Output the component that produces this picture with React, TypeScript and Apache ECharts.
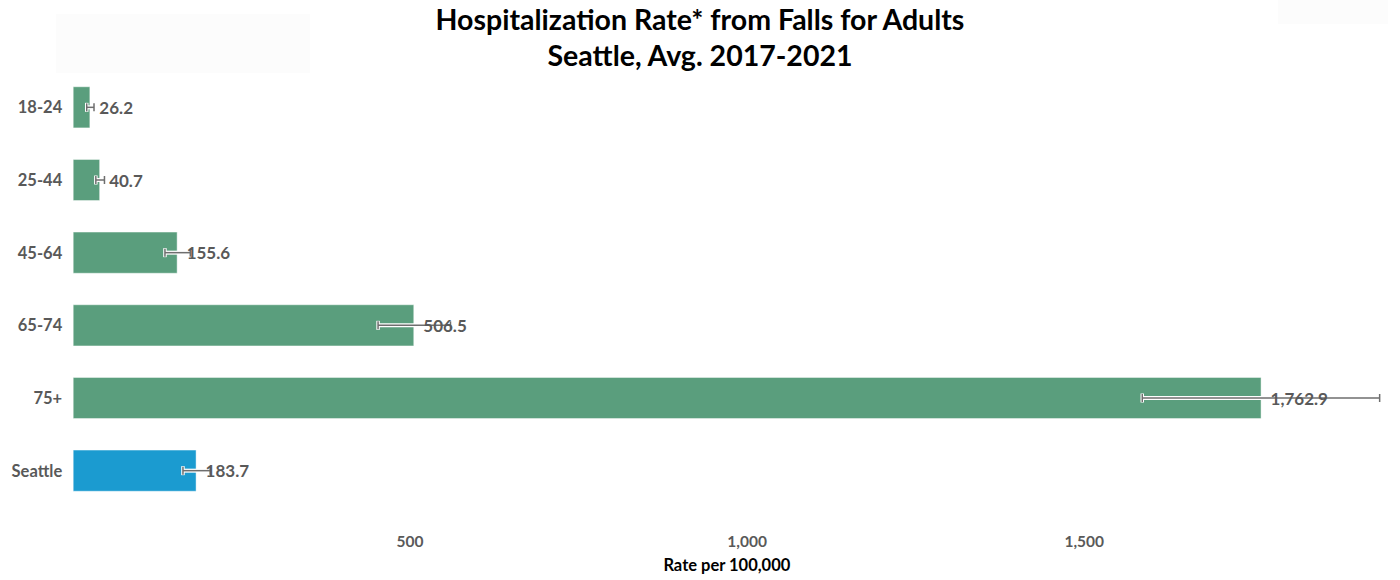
import React, { useEffect, useRef } from "react";
import * as echarts from "echarts";

const categories = ["18-24", "25-44", "45-64", "65-74", "75+", "Seattle"];
const rates = [26.2, 40.7, 155.6, 506.5, 1762.9, 183.7];
const ciLower = [20.8, 34.3, 136.8, 452.8, 1586.0, 163.5];
const ciUpper = [31.6, 47.1, 174.4, 560.2, 1938.0, 203.9];
const barColors = ["#5a9e7d", "#5a9e7d", "#5a9e7d", "#5a9e7d", "#5a9e7d", "#1b9bd0"];
const titleLines = ["Hospitalization Rate* from Falls for Adults", "Seattle, Avg. 2017-2021"];
const xAxisName = "Rate per 100,000";

const FONT = "Lato, 'Open Sans', sans-serif";

function fmt(v: number): string {
  return v.toLocaleString("en-US", { minimumFractionDigits: 1, maximumFractionDigits: 1 });
}

export default function App() {
  const ref = useRef<HTMLDivElement>(null);
  useEffect(() => {
    if (!ref.current) return;
    const chart = echarts.init(ref.current, null, { renderer: "svg" });
    const halo = "#ffffff";
    const gray = "#6e6e6e";
    const option: any = {
      animation: false,
      backgroundColor: "#ffffff",
      textStyle: { fontFamily: FONT },
      title: {
        text: titleLines.join("\n"),
        left: "center",
        top: -4,
        textStyle: {
          fontFamily: FONT,
          fontSize: 28.5,
          fontWeight: "bold",
          color: "#000000",
          lineHeight: 36,
        },
      },
      graphic: [
        { type: "rect", left: 56, top: 14, shape: { width: 254, height: 59 }, style: { fill: "#fcfcfc" }, silent: true, z: -10 },
        { type: "rect", left: 1278, top: 0, shape: { width: 110, height: 24 }, style: { fill: "#fcfcfc" }, silent: true, z: -10 },
      ],
      grid: { left: 72.7, right: 19, top: 71, bottom: 73, containLabel: false },
      xAxis: {
        type: "value",
        min: 0,
        max: 1940,
        interval: 500,
        axisLine: { show: false },
        axisTick: { show: false },
        splitLine: { show: false },
        axisLabel: {
          showMinLabel: false,
          showMaxLabel: false,
          margin: 26,
          fontSize: 15.5,
          fontWeight: "bold",
          color: "#595959",
          fontFamily: FONT,
          formatter: (v: number) => v.toLocaleString("en-US"),
        },
        name: xAxisName,
        nameLocation: "middle",
        nameGap: 49,
        nameTextStyle: { fontSize: 16.5, fontWeight: "bold", color: "#000000", fontFamily: FONT },
      },
      yAxis: {
        type: "category",
        inverse: true,
        data: categories,
        axisLine: { show: false },
        axisTick: { show: false },
        splitLine: { show: false },
        axisLabel: {
          margin: 10.5,
          fontSize: 16.5,
          fontWeight: "bold",
          color: "#595959",
          fontFamily: FONT,
        },
      },
      series: [
        {
          type: "bar",
          barWidth: "58%",
          data: rates.map((v, i) => ({
            value: v,
            itemStyle: { color: barColors[i], borderColor: "rgba(255,255,255,0.45)", borderWidth: 1 },
          })),
          z: 2,
        },
        {
          type: "custom",
          z: 3,
          encode: { x: [1, 2], y: 0 },
          data: categories.map((_, i) => [i, ciLower[i], ciUpper[i]]),
          renderItem: (params: any, api: any) => {
            const idx = api.value(0);
            const lo = api.coord([api.value(1), idx]);
            const hi = api.coord([api.value(2), idx]);
            const y = lo[1];
            const mk = (x1: number, y1: number, x2: number, y2: number, color: string, w: number) => ({
              type: "line",
              shape: { x1, y1, x2, y2 },
              style: { stroke: color, lineWidth: w, lineCap: "butt" },
            });
            return {
              type: "group",
              children: [
                mk(lo[0], y, hi[0], y, halo, 4),
                mk(lo[0], y - 4.5, lo[0], y + 4.5, halo, 3.5),
                mk(hi[0], y - 4.5, hi[0], y + 4.5, halo, 3.5),
                mk(lo[0], y, hi[0], y, gray, 1.5),
                mk(lo[0], y - 4, lo[0], y + 4, gray, 1.5),
                mk(hi[0], y - 4, hi[0], y + 4, gray, 1.5),
              ],
            };
          },
        },
        {
          type: "custom",
          z: 4,
          encode: { x: 1, y: 0 },
          data: categories.map((_, i) => [i, rates[i]]),
          renderItem: (params: any, api: any) => {
            const idx = api.value(0);
            const v = api.value(1);
            const p = api.coord([v, idx]);
            return {
              type: "text",
              x: p[0] + 9,
              y: p[1],
              style: {
                text: fmt(v),
                fill: "#595959",
                font: `bold 17px ${FONT}`,
                verticalAlign: "middle",
                align: "left",
              },
            };
          },
        },
      ],
    };
    chart.setOption(option);
    return () => chart.dispose();
  }, []);
  return (
    <div
      ref={ref}
      style={{ position: "fixed", left: 0, top: 0, width: 1400, height: 580, background: "#fff" }}
    />
  );
}
